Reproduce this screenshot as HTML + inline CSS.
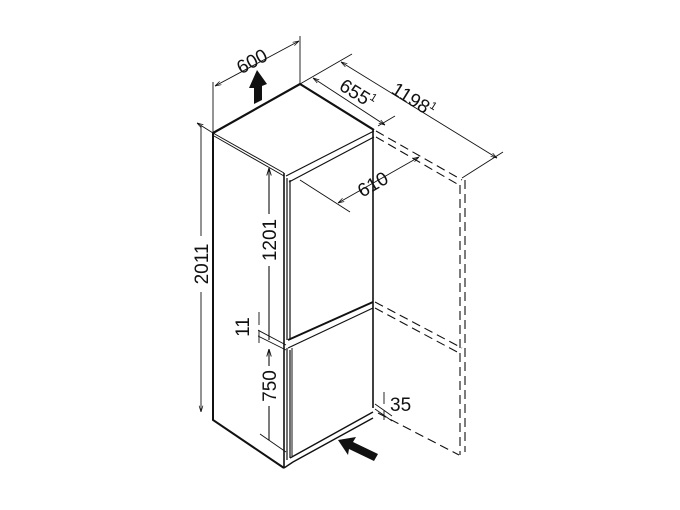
<!DOCTYPE html>
<html><head><style>body{margin:0;background:#fff}svg{display:block}text{font-family:"Liberation Sans",sans-serif;font-size:19px;fill:#111}</style></head><body>
<svg width="680" height="510" viewBox="0 0 680 510" xmlns="http://www.w3.org/2000/svg">
<defs><marker id="a" viewBox="0 0 10 10" refX="10" refY="5" markerWidth="7" markerHeight="7" orient="auto-start-reverse"><path d="M0,2 L10,5 L0,8" fill="none" stroke="#111" stroke-width="1.2"/></marker></defs>
<g stroke="#111" fill="none">
<path d="M213,133 L300,84 L374,130" stroke-width="2.2"/>
<path d="M213,133 L284,173" stroke-width="1"/><path d="M214,136 L284,176" stroke-width="1"/>
<path d="M213,133 L213,420 L284,468" stroke-width="2"/>
<path d="M284,173 L284,468" stroke-width="1.6"/>
<path d="M287,178 L287,340 M290,180 L290,340 M287,348 L287,460 M290,350 L290,458" stroke-width="1.2"/>
<path d="M373,130 L373,408" stroke-width="1.6"/>
<path d="M286,176 L374,131 M289,182 L374,137" stroke-width="1.2"/>
<path d="M288,340 L373,302" stroke-width="2"/>
<path d="M288,348 L373,308" stroke-width="1.2"/>
<path d="M290,458 L373,412 M284,468 L293,462 L373,418" stroke-width="1.4"/>
<path d="M292,348 L292,456" stroke-width="1"/>
<g stroke-dasharray="9,5" stroke-width="1.1">
<path d="M376,131 L462,180 M376,137 L459,185"/>
<path d="M460,185 L460,455 M465,180 L465,452"/>
<path d="M375,302 L462,348 M375,308 L459,353"/>
<path d="M378,413 L459,455"/>
</g>
<g stroke-width="0.9">
<path d="M213,133 L213,82 M300,84 L300,36"/>
<path d="M215,86 L299,41" marker-start="url(#a)" marker-end="url(#a)"/>
<path d="M300,84 L352,54 M378,126 L395,116 M462,178 L503,152"/>
<path d="M313,78 L385,125" marker-start="url(#a)" marker-end="url(#a)"/>
<path d="M341,62 L497,158" marker-start="url(#a)" marker-end="url(#a)"/>
<path d="M300,180 L350,212"/>
<path d="M338,203 L419,157" marker-start="url(#a)" marker-end="url(#a)"/>
<path d="M197,123 L213,133 M201,125 L201,412" marker-start="url(#a)" marker-end="url(#a)"/>
<path d="M269,168 L269,340" marker-start="url(#a)" stroke-width="1.1"/>
<path d="M269,349 L269,440" marker-start="url(#a)" stroke-width="1.1"/>
<path d="M259,312 L259,325 M259,343 L259,330"/>
<path d="M252,327 L286,345 M252,333 L286,350 M260,434 L286,452"/>
<path d="M384,392 L384,404 M384,420 L384,410 M375,404 L392,416 M375,409 L392,421"/>
</g>
</g>
<path d="M254,104 L262,100 L262,86 L267,84 L257,70 L249,88 L254,88 Z" fill="#111"/>
<path d="M338,440 L356,437 L353,442 L378,454 L374,461 L349,449 L348,455 Z" fill="#111"/>
<g fill="#fff"><rect x="192" y="236" width="18" height="56"/><rect x="260" y="214" width="18" height="52"/><rect x="260" y="366" width="18" height="40"/><rect x="244" y="316" width="14" height="22"/></g>
<text transform="translate(255,67) rotate(-28)" text-anchor="middle">600</text>
<text transform="translate(354,99) rotate(32)" text-anchor="middle">655<tspan font-size="11" dy="-8">1</tspan></text>
<text transform="translate(410,105) rotate(32)" text-anchor="middle">1198<tspan font-size="11" dy="-8">1</tspan></text>
<text transform="translate(376,190) rotate(-30)" text-anchor="middle">610</text>
<text transform="translate(208,264) rotate(-90)" text-anchor="middle">2011</text>
<text transform="translate(276,240) rotate(-90)" text-anchor="middle">1201</text>
<text transform="translate(249,327) rotate(-90)" text-anchor="middle">11</text>
<text transform="translate(276,386) rotate(-90)" text-anchor="middle">750</text>
<text x="390" y="411">35</text>
</svg>
</body></html>
